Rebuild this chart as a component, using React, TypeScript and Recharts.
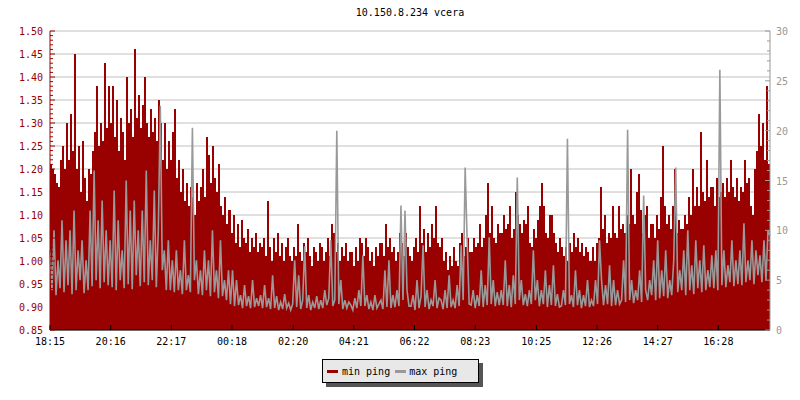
import React from "react";
import { ComposedChart, Area, Line, XAxis, YAxis, CartesianGrid } from "recharts";

// one sample every 4 minutes, starting 18:15
const stepMinutes = 4;

// min ping, left axis (ms)
const minPing = [
  1.21, 1.20, 1.19, 1.17, 1.16, 1.22, 1.25, 1.20, 1.30, 1.22, 1.32, 1.24, 1.45, 1.20, 1.25,
  1.15, 1.26, 1.18, 1.13, 1.20, 1.19, 1.24, 1.28, 1.38, 1.25, 1.30, 1.26, 1.43, 1.29, 1.38,
  1.30, 1.38, 1.27, 1.35, 1.24, 1.31, 1.28, 1.22, 1.40, 1.30, 1.33, 1.27, 1.46, 1.31, 1.36,
  1.29, 1.34, 1.40, 1.30, 1.27, 1.33, 1.28, 1.31, 1.26, 1.35, 1.30, 1.22, 1.30, 1.20, 1.26,
  1.22, 1.28, 1.33, 1.18, 1.22, 1.15, 1.20, 1.13, 1.17, 1.12, 1.16, 1.14, 1.10, 1.17, 1.13,
  1.16, 1.20, 1.14, 1.27, 1.23, 1.17, 1.25, 1.18, 1.15, 1.21, 1.12, 1.10, 1.14, 1.08, 1.11,
  1.06, 1.10, 1.04, 1.08, 1.03, 1.09, 1.05, 1.04, 1.07, 1.02, 1.05, 1.03, 1.06, 1.02, 1.04,
  1.03, 1.05, 1.01, 1.13, 1.03, 1.00, 1.05, 1.02, 1.06, 1.01, 1.04, 1.00, 1.03, 1.05, 1.01,
  1.00, 1.03, 1.01, 1.08, 1.02, 1.00, 1.04, 1.02, 1.05, 1.01, 0.99, 1.03, 1.02, 1.00, 1.04,
  1.03, 1.00, 1.02, 1.05, 1.01, 1.08, 1.06, 1.02, 1.04, 1.00, 1.03, 1.01, 1.04, 1.00, 1.02,
  1.02, 0.99, 1.03, 1.00, 1.05, 1.04, 1.01, 1.05, 1.03, 1.00, 1.02, 0.99, 1.03, 1.01, 1.04,
  1.04, 1.01, 1.08, 1.03, 1.05, 1.02, 1.03, 1.00, 1.02, 1.06, 1.04, 1.01, 1.06, 1.03, 1.01,
  1.00, 1.03, 1.05, 1.02, 1.12, 1.04, 1.07, 1.02, 1.06, 1.03, 1.08, 1.05, 1.12, 1.04, 1.03,
  1.05, 1.00, 1.02, 0.98, 1.01, 0.99, 1.03, 1.00, 0.99, 1.04, 1.06, 1.01, 1.03, 1.05, 1.02,
  1.02, 1.05, 1.03, 1.04, 1.08, 1.03, 1.05, 1.10, 1.17, 1.06, 1.12, 1.05, 1.04, 1.08, 1.06,
  1.06, 1.10, 1.07, 1.08, 1.12, 1.05, 1.07, 1.15, 1.10, 1.08, 1.06, 1.09, 1.08, 1.12, 1.04,
  1.03, 1.07, 1.05, 1.09, 1.12, 1.17, 1.12, 1.06, 1.05, 1.10, 1.10, 1.06, 1.04, 1.02, 1.05,
  1.03, 1.01, 1.03, 1.00, 1.04, 1.02, 1.06, 1.03, 1.05, 1.02, 1.04, 1.01, 1.03, 1.02, 1.00,
  1.03, 1.00, 1.04, 1.05, 1.16, 1.07, 1.10, 1.04, 1.06, 1.05, 1.12, 1.06, 1.05, 1.12, 1.07,
  1.08, 1.06, 1.10, 1.08, 1.20, 1.10, 1.08, 1.15, 1.19, 1.11, 1.06, 1.10, 1.12, 1.05, 1.08,
  1.08, 1.05, 1.10, 1.07, 1.14, 1.25, 1.12, 1.08, 1.10, 1.07, 1.12, 1.20, 1.06, 1.09, 1.07,
  1.07, 1.10, 1.08, 1.14, 1.10, 1.20, 1.12, 1.16, 1.12, 1.28, 1.15, 1.13, 1.22, 1.14, 1.16,
  1.16, 1.12, 1.18, 1.14, 1.15, 1.17, 1.14, 1.18, 1.15, 1.22, 1.16, 1.14, 1.18, 1.13, 1.16,
  1.15, 1.22, 1.17, 1.18, 1.12, 1.10, 1.20, 1.24, 1.32, 1.25, 1.30, 1.22, 1.38, 1.21, 1.23,
];

// max ping, right axis (ms)
const maxPing = [
  8, 4, 10, 3.5, 7, 4.2, 11, 3.8, 9, 4.5, 10, 3.6, 12, 4, 8,
  5, 9, 3.7, 7, 4, 12, 4.4, 16, 5, 11, 4.2, 13, 4.8, 10, 4.5,
  9, 4.3, 14, 4, 11, 5, 8, 4.2, 15, 4.6, 12, 4.1, 13, 5.5, 10,
  4.4, 12, 4.8, 16, 4.5, 9, 5, 14, 4.3, 10, 22.5, 6, 8, 4, 9,
  4, 7, 3.8, 8, 4, 6, 3.6, 9, 4, 5.5, 3.8, 20.3, 5, 7, 3.6,
  6, 3.5, 8, 4, 7, 3.4, 10, 3.8, 6, 3.2, 9, 3.4, 5, 3, 6,
  2.6, 6, 2.4, 5, 2.5, 3.5, 2.2, 4.5, 2.4, 3.4, 2.2, 5, 2.3, 3.2, 2.4,
  3.5, 2.2, 4.5, 2.3, 3.2, 2.1, 5.5, 2.2, 3.4, 2.0, 2.8, 2.1, 3.6, 2.2, 2.7,
  2.0, 2.6, 7, 2.3, 5.5, 2.1, 3, 8.4, 2.2, 3.5, 2.0, 2.8, 2.2, 3.4, 2.1,
  3, 2.2, 4, 2.5, 3.2, 9, 2.4, 3, 20, 2.6, 5, 2.1, 3, 2.2, 2.8,
  2.5, 2.0, 3.2, 2.2, 4, 2.4, 7.5, 2.4, 3.5, 2.1, 2.8, 2.0, 3.5, 2.2, 2.6,
  3, 2.1, 6, 2.3, 7, 2.2, 3.5, 2.3, 4, 2.4, 12.5, 3, 12, 4, 2.4,
  2.4, 3.5, 2.0, 5, 2.2, 3.4, 8.5, 2.3, 4, 2.1, 3, 2.4, 5, 2.2, 3.2,
  3, 2.1, 4, 2.2, 5.5, 2.3, 3, 2.2, 4.5, 2.4, 8.5, 3, 16.3, 9, 2.6,
  2.5, 4, 2.2, 3.5, 2.4, 6, 2.3, 4.5, 2.5, 9.3, 2.6, 5, 2.4, 3.8, 2.5,
  4, 2.5, 7, 2.4, 4.5, 2.3, 5.5, 2.6, 15.3, 3, 5, 2.5, 3.6, 2.4, 4,
  2.6, 8, 3, 5, 2.4, 4, 2.6, 6, 2.3, 4.5, 2.5, 6.5, 2.4, 3.6, 2.3,
  2.4, 4, 2.5, 19.2, 2.6, 3.5, 2.3, 6, 2.5, 4, 2.2, 3.5, 2.4, 5, 2.3,
  3, 2.4, 5, 2.6, 9, 5, 2.5, 4.5, 2.6, 6.5, 2.4, 5, 2.5, 4, 2.6,
  3, 7, 2.8, 20.1, 3, 5, 2.7, 4, 3, 6, 2.8, 13.5, 4, 3, 5,
  3.5, 7, 3, 9, 3.2, 6, 3.4, 8, 3.2, 5, 3.5, 7, 16.3, 3.8, 6,
  4, 8, 3.5, 10, 4, 6.5, 3.6, 9, 4.2, 7, 3.8, 8.5, 4, 6, 4.3,
  7.5, 4.2, 8, 4, 26.1, 4.5, 8, 4.3, 6.5, 4.8, 9, 4.4, 7, 4.6, 8,
  4.5, 10.7, 4.8, 7, 5, 9, 4.6, 8, 5.5, 7.5, 4.8, 9, 5, 10, 9.5,
];

// x ticks, minutes after 18:15
const timeTicks = [0, 121, 242, 363, 485, 606, 727, 848, 970, 1091, 1212, 1333];
const timeLabels = ["18:15", "20:16", "22:17", "00:18", "02:20", "04:21", "06:22", "08:23", "10:25", "12:26", "14:27", "16:28"];

const leftMajor = [0.85, 0.9, 0.95, 1.0, 1.05, 1.1, 1.15, 1.2, 1.25, 1.3, 1.35, 1.4, 1.45, 1.5];
const leftTicks = Array.from({ length: 66 }, (_, i) => (85 + i) / 100);
const rightTicks = Array.from({ length: 31 }, (_, i) => i);

const RED = "#990000";
const GRAY = "#999999";
const FONT = "'DejaVu Sans Mono', monospace";

const data = minPing.map((v, i) => ({ t: i * stepMinutes, min: v, max: maxPing[i] }));
const lastT = (minPing.length - 1) * stepMinutes;

function LeftTick({ x, y, payload }: any) {
  const v = Math.round(payload.value * 100);
  const major = v % 5 === 0;
  const ax = x + 7;
  return (
    <g>
      <line x1={ax} x2={ax + (major ? 5 : 3)} y1={y} y2={y} stroke={RED} />
      {major && (
        <text x={x} y={y} dy={4} textAnchor="end" fill={RED} fontSize={10} fontFamily={FONT}>
          {(v / 100).toFixed(2)}
        </text>
      )}
    </g>
  );
}

function RightTick({ x, y, payload }: any) {
  const v = payload.value;
  const major = v % 5 === 0;
  const ax = x - 6;
  return (
    <g>
      <line x1={ax} x2={ax - (major ? 5 : 3)} y1={y} y2={y} stroke={GRAY} />
      {major && (
        <text x={x} y={y} dy={4} textAnchor="start" fill={GRAY} fontSize={10} fontFamily={FONT}>
          {v}
        </text>
      )}
    </g>
  );
}

function TimeTick({ x, y, payload }: any) {
  const idx = timeTicks.indexOf(payload.value);
  return (
    <g>
      <line x1={x} x2={x} y1={y - 5} y2={y} stroke="#000" />
      <text x={x} y={y + 15} textAnchor="middle" fill="#000" fontSize={10} fontFamily={FONT}>
        {timeLabels[idx]}
      </text>
    </g>
  );
}

export default function App() {
  return (
    <div style={{ position: "relative", width: 800, height: 400, background: "#fff" }}>
      <style>{"body{margin:0}"}</style>
      <div
        style={{
          position: "absolute",
          left: 50,
          width: 720,
          top: 7,
          textAlign: "center",
          fontFamily: FONT,
          fontSize: 10,
          lineHeight: "12px",
          color: "#000",
        }}
      >
        10.150.8.234 vcera
      </div>
      <ComposedChart width={800} height={400} data={data} margin={{ top: 31, right: 0, bottom: 40, left: 0 }}>
        <CartesianGrid yAxisId="left" vertical={false} horizontalValues={leftMajor} stroke="#c0c0c0" />
        <XAxis
          dataKey="t"
          type="number"
          domain={[0, lastT]}
          ticks={timeTicks}
          interval={0}
          height={30}
          tickSize={0}
          tickMargin={0}
          tickLine={false}
          tick={<TimeTick />}
          axisLine={{ stroke: "#000" }}
        />
        <YAxis
          yAxisId="left"
          domain={[0.85, 1.5]}
          ticks={leftTicks}
          interval={0}
          width={50}
          tickSize={0}
          tickMargin={7}
          tickLine={false}
          tick={<LeftTick />}
          axisLine={{ stroke: RED }}
          allowDataOverflow
        />
        <YAxis
          yAxisId="right"
          orientation="right"
          domain={[0, 30]}
          ticks={rightTicks}
          interval={0}
          width={30}
          tickSize={0}
          tickMargin={6}
          tickLine={false}
          tick={<RightTick />}
          axisLine={{ stroke: GRAY }}
          allowDataOverflow
        />
        <Area
          yAxisId="left"
          type="stepAfter"
          dataKey="min"
          stroke="none"
          fill={RED}
          fillOpacity={1}
          shapeRendering="crispEdges"
          dot={false}
          activeDot={false}
          isAnimationActive={false}
        />
        <Line
          yAxisId="right"
          type="linear"
          dataKey="max"
          stroke={GRAY}
          strokeWidth={1.6}
          dot={false}
          activeDot={false}
          isAnimationActive={false}
        />
      </ComposedChart>
      <div
        style={{
          position: "absolute",
          left: 322,
          top: 359,
          width: 151,
          height: 22,
          border: "1px solid #000",
          background: "#e8e8e8",
          boxShadow: "4px 4px 0 #555",
          display: "flex",
          alignItems: "center",
          paddingLeft: 4,
          boxSizing: "content-box",
          fontFamily: FONT,
          fontSize: 10,
          color: "#000",
          whiteSpace: "nowrap",
        }}
      >
        <span style={{ display: "inline-block", width: 11, height: 3, background: RED, marginRight: 4 }} />
        <span>min ping</span>
        <span style={{ display: "inline-block", width: 11, height: 3, background: GRAY, marginLeft: 5, marginRight: 3 }} />
        <span>max ping</span>
      </div>
    </div>
  );
}
